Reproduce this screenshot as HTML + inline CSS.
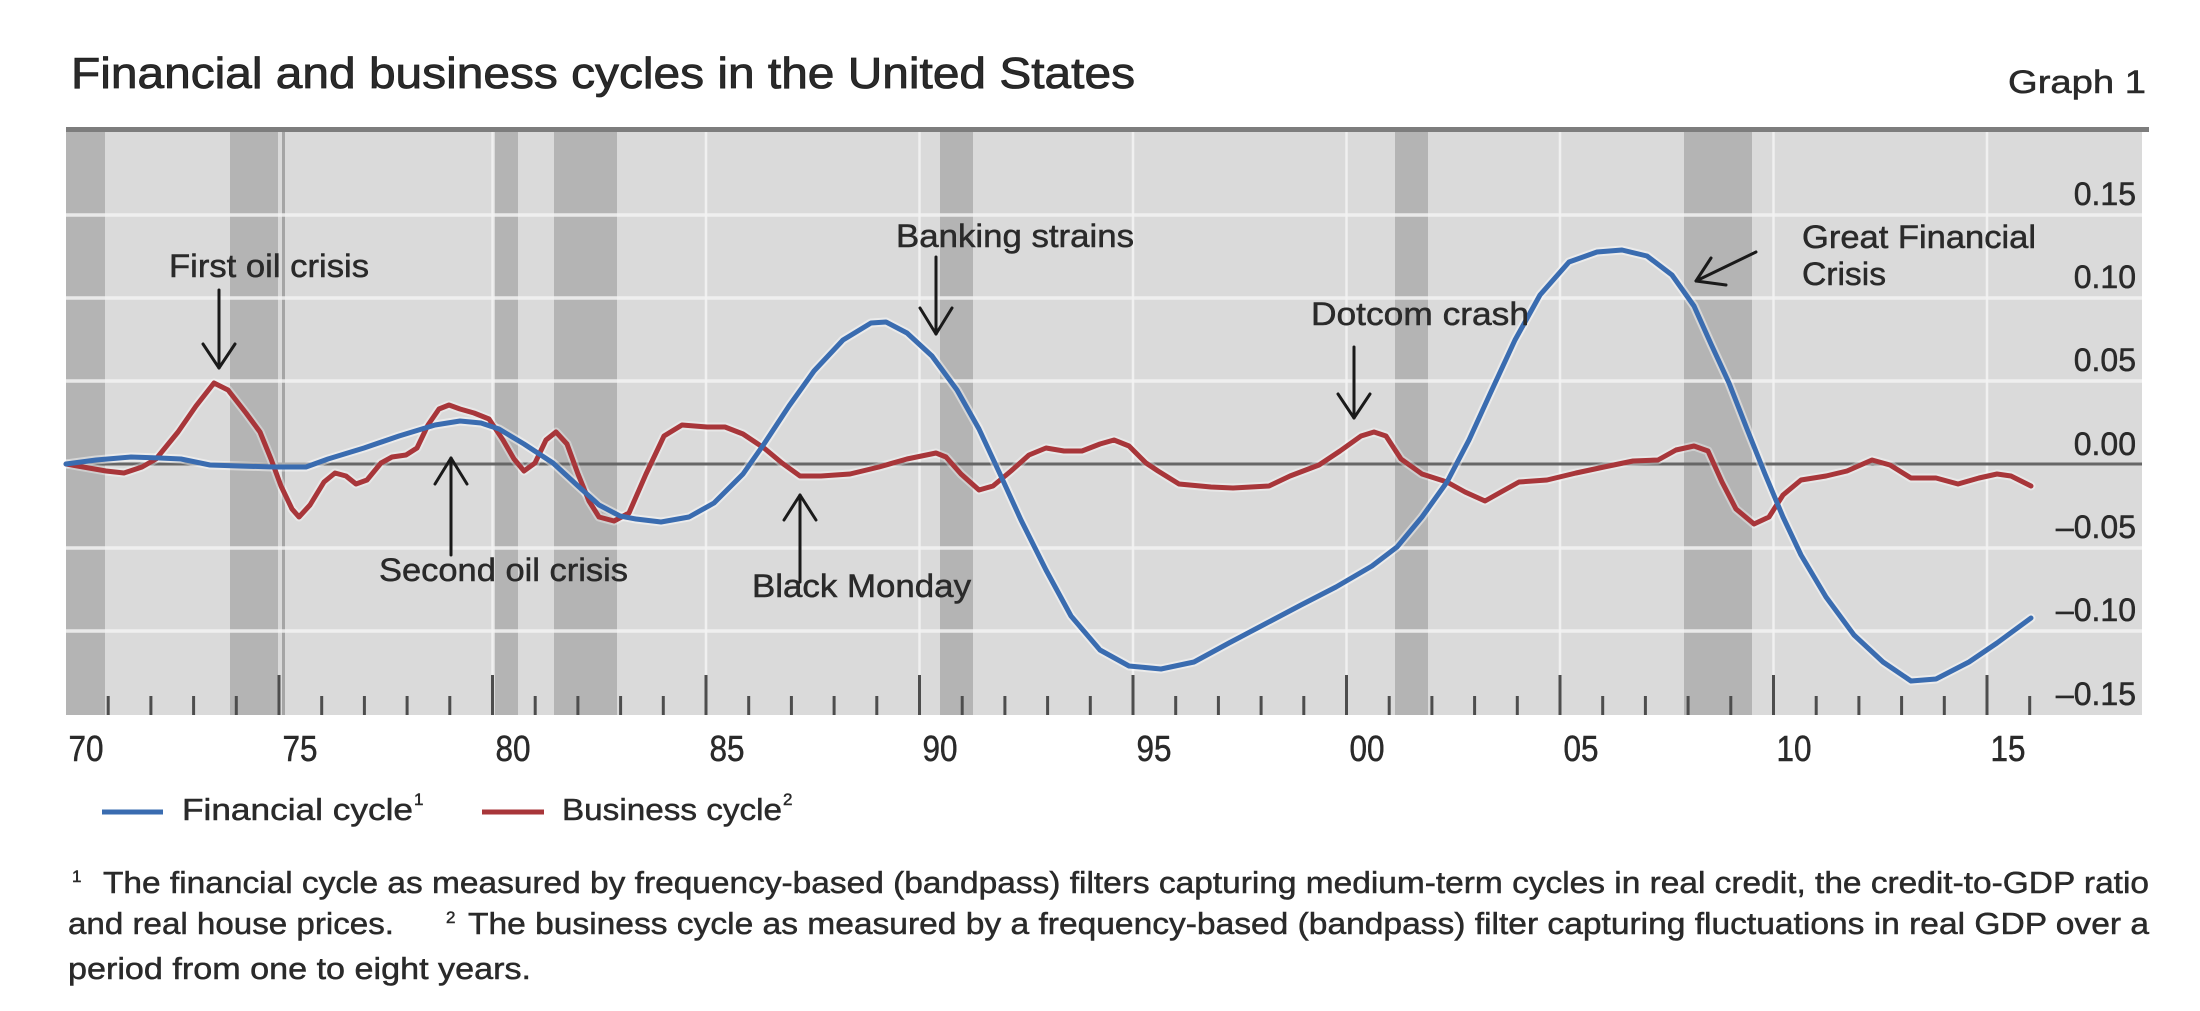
<!DOCTYPE html>
<html><head><meta charset="utf-8"><style>
html,body{margin:0;padding:0;background:#fff;}
svg{display:block;}
text{font-family:"Liberation Sans",Arial,sans-serif;fill:#2a2a2a;stroke:#2a2a2a;stroke-width:0.5px;}
</style></head><body>
<svg width="2200" height="1011" viewBox="0 0 2200 1011" xmlns="http://www.w3.org/2000/svg">
<rect x="0" y="0" width="2200" height="1011" fill="#fff"/>
<!-- Title -->
<text x="71" y="88" font-size="44" textLength="1064" lengthAdjust="spacingAndGlyphs" fill="#1e1e1e" style="stroke:#1e1e1e;stroke-width:0.8px">Financial and business cycles in the United States</text>
<text x="2008" y="93" font-size="32" textLength="138" lengthAdjust="spacingAndGlyphs" fill="#333">Graph 1</text>
<!-- top border -->
<rect x="66" y="127" width="2083" height="5" fill="#7d7d7d"/>
<!-- plot bg -->
<rect x="66" y="132" width="2076" height="583" fill="#dadada"/>
<!-- recession bars -->
<g fill="#b4b4b4">
<rect x="66" y="132" width="39" height="583"/>
<rect x="230" y="132" width="48" height="583"/>
<rect x="495" y="132" width="23" height="583"/>
<rect x="554" y="132" width="63" height="583"/>
<rect x="940" y="132" width="33" height="583"/>
<rect x="1395" y="132" width="33" height="583"/>
<rect x="1684" y="132" width="68" height="583"/>
</g>
<rect x="282" y="132" width="3" height="583" fill="#a5a5a5"/>
<!-- gridlines -->
<g stroke="#f2f2f2" stroke-opacity="0.85" stroke-width="3.5">
<line x1="66" y1="215" x2="2142" y2="215"/>
<line x1="66" y1="298" x2="2142" y2="298"/>
<line x1="66" y1="381" x2="2142" y2="381"/>
<line x1="66" y1="548" x2="2142" y2="548"/>
<line x1="66" y1="631" x2="2142" y2="631"/>
</g>
<g stroke="#f2f2f2" stroke-opacity="0.9" stroke-width="2.5">
<line x1="492.5" y1="132" x2="492.5" y2="715"/>
<line x1="706" y1="132" x2="706" y2="715"/>
<line x1="919.5" y1="132" x2="919.5" y2="715"/>
<line x1="1133" y1="132" x2="1133" y2="715"/>
<line x1="1346.5" y1="132" x2="1346.5" y2="715"/>
<line x1="1560" y1="132" x2="1560" y2="715"/>
<line x1="1773.5" y1="132" x2="1773.5" y2="715"/>
<line x1="1987" y1="132" x2="1987" y2="715"/>
</g>
<!-- zero line -->
<line x1="66" y1="464" x2="2142" y2="464" stroke="#666" stroke-width="3"/>
<!-- ticks -->
<g stroke="#4d4d4d" stroke-width="3">
<line x1="108.2" y1="696" x2="108.2" y2="715"/>
<line x1="150.9" y1="696" x2="150.9" y2="715"/>
<line x1="193.6" y1="696" x2="193.6" y2="715"/>
<line x1="236.3" y1="696" x2="236.3" y2="715"/>
<line x1="279" y1="675" x2="279" y2="715"/>
<line x1="321.7" y1="696" x2="321.7" y2="715"/>
<line x1="364.4" y1="696" x2="364.4" y2="715"/>
<line x1="407.1" y1="696" x2="407.1" y2="715"/>
<line x1="449.8" y1="696" x2="449.8" y2="715"/>
<line x1="492.5" y1="675" x2="492.5" y2="715"/>
<line x1="535.2" y1="696" x2="535.2" y2="715"/>
<line x1="577.9" y1="696" x2="577.9" y2="715"/>
<line x1="620.6" y1="696" x2="620.6" y2="715"/>
<line x1="663.3" y1="696" x2="663.3" y2="715"/>
<line x1="706" y1="675" x2="706" y2="715"/>
<line x1="748.7" y1="696" x2="748.7" y2="715"/>
<line x1="791.4" y1="696" x2="791.4" y2="715"/>
<line x1="834.1" y1="696" x2="834.1" y2="715"/>
<line x1="876.8" y1="696" x2="876.8" y2="715"/>
<line x1="919.5" y1="675" x2="919.5" y2="715"/>
<line x1="962.2" y1="696" x2="962.2" y2="715"/>
<line x1="1004.9" y1="696" x2="1004.9" y2="715"/>
<line x1="1047.6" y1="696" x2="1047.6" y2="715"/>
<line x1="1090.3" y1="696" x2="1090.3" y2="715"/>
<line x1="1133" y1="675" x2="1133" y2="715"/>
<line x1="1175.7" y1="696" x2="1175.7" y2="715"/>
<line x1="1218.4" y1="696" x2="1218.4" y2="715"/>
<line x1="1261.1" y1="696" x2="1261.1" y2="715"/>
<line x1="1303.8" y1="696" x2="1303.8" y2="715"/>
<line x1="1346.5" y1="675" x2="1346.5" y2="715"/>
<line x1="1389.2" y1="696" x2="1389.2" y2="715"/>
<line x1="1431.9" y1="696" x2="1431.9" y2="715"/>
<line x1="1474.6" y1="696" x2="1474.6" y2="715"/>
<line x1="1517.3" y1="696" x2="1517.3" y2="715"/>
<line x1="1560" y1="675" x2="1560" y2="715"/>
<line x1="1602.7" y1="696" x2="1602.7" y2="715"/>
<line x1="1645.4" y1="696" x2="1645.4" y2="715"/>
<line x1="1688.1" y1="696" x2="1688.1" y2="715"/>
<line x1="1730.8" y1="696" x2="1730.8" y2="715"/>
<line x1="1773.5" y1="675" x2="1773.5" y2="715"/>
<line x1="1816.2" y1="696" x2="1816.2" y2="715"/>
<line x1="1858.9" y1="696" x2="1858.9" y2="715"/>
<line x1="1901.6" y1="696" x2="1901.6" y2="715"/>
<line x1="1944.3" y1="696" x2="1944.3" y2="715"/>
<line x1="1987" y1="675" x2="1987" y2="715"/>
<line x1="2029.7" y1="696" x2="2029.7" y2="715"/>
</g>
<!-- series halos -->
<g fill="none" stroke-linejoin="round" stroke-linecap="round">
<polyline stroke="#ffffff" stroke-opacity="0.45" stroke-width="9" points="66,464 96,460 131,457 160,458 181,459 210,465 239,466 274,467 306,467 328,459 364,448 399,436 435,425 460,421 481,423 499,429 524,444 553,463 578,486 599,505 620,516 636,519 661,522 689,517 714,503 743,474 764,444 789,406 814,371 843,340 871,323 886,322 907,333 932,356 957,390 979,429 1000,474 1021,520 1046,570 1071,616 1100,650 1129,666 1161,669 1194,662 1229,643 1265,624 1301,605 1336,587 1372,566 1397,547 1422,517 1447,482 1469,440 1490,394 1515,340 1540,295 1569,262 1597,252 1622,250 1647,256 1672,275 1694,306 1711,344 1729,383 1747,429 1765,474 1783,517 1801,555 1826,597 1854,635 1883,662 1911,681 1936,679 1969,662 1997,643 2031,618"/>
<polyline stroke="#ffffff" stroke-opacity="0.35" stroke-width="9" points="66,464 106,471 124,473 142,467 156,459 178,432 196,406 214,383 228,390 246,413 260,432 271,459 281,486 292,509 299,517 310,505 324,482 335,473 346,476 356,484 367,480 381,463 392,457 406,455 417,448 428,425 439,409 449,405 460,409 474,413 489,419 503,440 514,459 524,471 535,463 546,440 556,432 567,444 578,474 589,501 599,517 614,521 629,513 646,474 664,436 682,425 707,427 725,427 743,434 764,448 782,463 800,476 821,476 850,474 879,467 907,459 936,453 946,457 961,474 979,490 993,486 1011,471 1029,455 1046,448 1064,451 1082,451 1100,444 1114,440 1129,446 1146,463 1158,471 1179,484 1211,487 1233,488 1269,486 1290,476 1319,465 1340,451 1361,436 1374,432 1386,436 1401,459 1422,474 1447,482 1465,492 1485,501 1501,492 1519,482 1547,480 1576,473 1604,467 1633,461 1658,460 1676,450 1694,446 1708,451 1722,482 1736,509 1754,524 1769,517 1783,495 1801,480 1826,476 1847,471 1872,460 1890,465 1911,478 1936,478 1958,484 1979,478 1997,474 2011,476 2031,486"/>
<!-- red business cycle -->
<polyline stroke="#a8363a" stroke-width="5" points="66,464 106,471 124,473 142,467 156,459 178,432 196,406 214,383 228,390 246,413 260,432 271,459 281,486 292,509 299,517 310,505 324,482 335,473 346,476 356,484 367,480 381,463 392,457 406,455 417,448 428,425 439,409 449,405 460,409 474,413 489,419 503,440 514,459 524,471 535,463 546,440 556,432 567,444 578,474 589,501 599,517 614,521 629,513 646,474 664,436 682,425 707,427 725,427 743,434 764,448 782,463 800,476 821,476 850,474 879,467 907,459 936,453 946,457 961,474 979,490 993,486 1011,471 1029,455 1046,448 1064,451 1082,451 1100,444 1114,440 1129,446 1146,463 1158,471 1179,484 1211,487 1233,488 1269,486 1290,476 1319,465 1340,451 1361,436 1374,432 1386,436 1401,459 1422,474 1447,482 1465,492 1485,501 1501,492 1519,482 1547,480 1576,473 1604,467 1633,461 1658,460 1676,450 1694,446 1708,451 1722,482 1736,509 1754,524 1769,517 1783,495 1801,480 1826,476 1847,471 1872,460 1890,465 1911,478 1936,478 1958,484 1979,478 1997,474 2011,476 2031,486"/>
<!-- blue financial cycle -->
<polyline stroke="#3a6cb0" stroke-width="5" points="66,464 96,460 131,457 160,458 181,459 210,465 239,466 274,467 306,467 328,459 364,448 399,436 435,425 460,421 481,423 499,429 524,444 553,463 578,486 599,505 620,516 636,519 661,522 689,517 714,503 743,474 764,444 789,406 814,371 843,340 871,323 886,322 907,333 932,356 957,390 979,429 1000,474 1021,520 1046,570 1071,616 1100,650 1129,666 1161,669 1194,662 1229,643 1265,624 1301,605 1336,587 1372,566 1397,547 1422,517 1447,482 1469,440 1490,394 1515,340 1540,295 1569,262 1597,252 1622,250 1647,256 1672,275 1694,306 1711,344 1729,383 1747,429 1765,474 1783,517 1801,555 1826,597 1854,635 1883,662 1911,681 1936,679 1969,662 1997,643 2031,618"/>
</g>
<!-- annotations -->
<g font-size="32" fill="#333">
<text x="169" y="277" textLength="200" lengthAdjust="spacingAndGlyphs">First oil crisis</text>
<text x="379" y="581" textLength="249" lengthAdjust="spacingAndGlyphs">Second oil crisis</text>
<text x="896" y="247" textLength="238" lengthAdjust="spacingAndGlyphs">Banking strains</text>
<text x="752" y="597" textLength="219" lengthAdjust="spacingAndGlyphs">Black Monday</text>
<text x="1311" y="325" textLength="218" lengthAdjust="spacingAndGlyphs">Dotcom crash</text>
<text x="1802" y="248" textLength="234" lengthAdjust="spacingAndGlyphs">Great Financial</text>
<text x="1802" y="285" textLength="84" lengthAdjust="spacingAndGlyphs">Crisis</text>
</g>
<g stroke="#1a1a1a" stroke-width="3" fill="none" stroke-linecap="round" stroke-linejoin="round">
<line x1="219" y1="290" x2="219" y2="368"/><polyline points="203,344 219,368 235,344"/>
<line x1="451" y1="555" x2="451" y2="458"/><polyline points="435,484 451,458 467,484"/>
<line x1="936" y1="257" x2="936" y2="334"/><polyline points="920,308 936,334 952,308"/>
<line x1="800" y1="582" x2="800" y2="495"/><polyline points="784,520 800,495 816,520"/>
<line x1="1354" y1="347" x2="1354" y2="418"/><polyline points="1338,394 1354,418 1370,394"/>
<line x1="1756" y1="252" x2="1696" y2="281"/><polyline points="1711,258 1696,281 1726,285"/>
</g>
<!-- y labels -->
<g font-size="32" text-anchor="end" fill="#2a2a2a">
<text x="2136" y="205">0.15</text>
<text x="2136" y="288">0.10</text>
<text x="2136" y="371">0.05</text>
<text x="2136" y="455">0.00</text>
<text x="2136" y="538">–0.05</text>
<text x="2136" y="621">–0.10</text>
<text x="2136" y="705">–0.15</text>
</g>
<!-- x labels -->
<g font-size="36" text-anchor="middle" fill="#2a2a2a">
<text x="86" y="761" textLength="35" lengthAdjust="spacingAndGlyphs">70</text>
<text x="300" y="761" textLength="35" lengthAdjust="spacingAndGlyphs">75</text>
<text x="513" y="761" textLength="35" lengthAdjust="spacingAndGlyphs">80</text>
<text x="727" y="761" textLength="35" lengthAdjust="spacingAndGlyphs">85</text>
<text x="940" y="761" textLength="35" lengthAdjust="spacingAndGlyphs">90</text>
<text x="1154" y="761" textLength="35" lengthAdjust="spacingAndGlyphs">95</text>
<text x="1367" y="761" textLength="35" lengthAdjust="spacingAndGlyphs">00</text>
<text x="1581" y="761" textLength="35" lengthAdjust="spacingAndGlyphs">05</text>
<text x="1794" y="761" textLength="35" lengthAdjust="spacingAndGlyphs">10</text>
<text x="2008" y="761" textLength="35" lengthAdjust="spacingAndGlyphs">15</text>
</g>
<!-- legend -->
<line x1="102" y1="812" x2="163" y2="812" stroke="#3a6cb0" stroke-width="5"/>
<text x="182" y="820" font-size="31" textLength="231" lengthAdjust="spacingAndGlyphs" fill="#333">Financial cycle</text>
<text x="414" y="805" font-size="17" fill="#333">1</text>
<line x1="482" y1="812" x2="544" y2="812" stroke="#a8363a" stroke-width="5"/>
<text x="562" y="820" font-size="31" textLength="220" lengthAdjust="spacingAndGlyphs" fill="#333">Business cycle</text>
<text x="783" y="805" font-size="17" fill="#333">2</text>
<!-- footnotes -->
<g font-size="31" fill="#333">
<text x="72" y="882" font-size="17">1</text>
<text x="103" y="893" textLength="2046" lengthAdjust="spacingAndGlyphs">The financial cycle as measured by frequency-based (bandpass) filters capturing medium-term cycles in real credit, the credit-to-GDP ratio</text>
<text x="68" y="934" textLength="326" lengthAdjust="spacingAndGlyphs">and real house prices.</text>
<text x="446" y="923" font-size="17">2</text>
<text x="468" y="934" textLength="1681" lengthAdjust="spacingAndGlyphs">The business cycle as measured by a frequency-based (bandpass) filter capturing fluctuations in real GDP over a</text>
<text x="68" y="979" textLength="463" lengthAdjust="spacingAndGlyphs">period from one to eight years.</text>
</g>
</svg>
</body></html>
